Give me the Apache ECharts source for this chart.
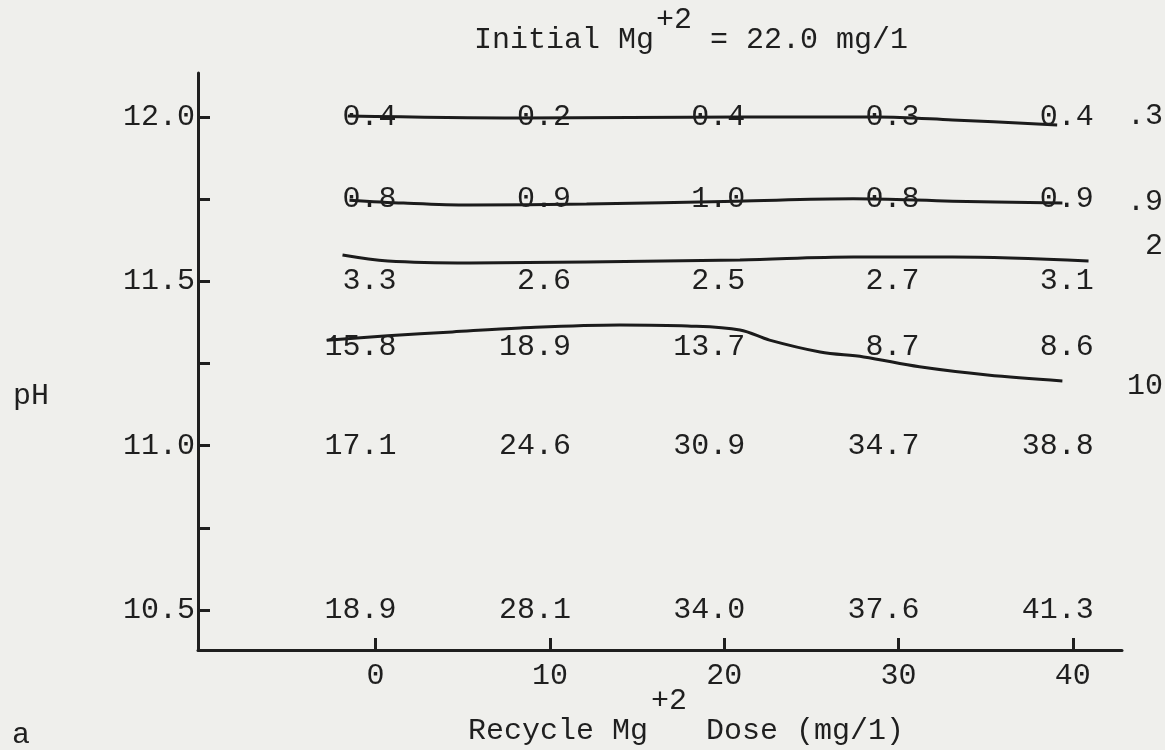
<!DOCTYPE html>
<html>
<head>
<meta charset="utf-8">
<script src="https://cdn.jsdelivr.net/npm/echarts@6/dist/echarts.min.js"></script>
<style>
  html, body { margin: 0; padding: 0; background: #efefec; }
  #chart { width: 1165px; height: 750px; }
</style>
</head>
<body>
<div id="chart"></div>
<script>
// Recycle Mg+2 dose columns (mg/l)
const doses = [0, 10, 20, 30, 40];
// pH levels of the tabulated rows
const phRows = [12.0, 11.75, 11.5, 11.3, 11.0, 10.5];
// residual values at each pH level, one entry per dose
const rowPh120 = [0.4, 0.2, 0.4, 0.3, 0.4];
const rowPh1175 = [0.8, 0.9, 1.0, 0.8, 0.9];
const rowPh115 = [3.3, 2.6, 2.5, 2.7, 3.1];
const rowPh113 = [15.8, 18.9, 13.7, 8.7, 8.6];
const rowPh110 = [17.1, 24.6, 30.9, 34.7, 38.8];
const rowPh105 = [18.9, 28.1, 34.0, 37.6, 41.3];
const tableRows = [rowPh120, rowPh1175, rowPh115, rowPh113, rowPh110, rowPh105];

// iso-lines drawn through the table: [dose, pH]
const curve03 = [[-1.6, 12.003], [8.3, 11.997], [20.9, 12.0], [28.8, 12.0], [33.1, 11.991], [39.1, 11.976]];
const curve09 = [[-1.5, 11.747], [1.6, 11.738], [5.4, 11.732], [12.1, 11.735], [20.7, 11.744], [27.4, 11.751], [33.1, 11.744], [39.4, 11.738]];
const curve2 = [[-1.9, 11.580], [0.7, 11.562], [5.4, 11.556], [12.1, 11.559], [20.9, 11.565], [27.4, 11.574], [33.1, 11.574], [40.9, 11.562]];
const curve10 = [[-2.8, 11.321], [0.7, 11.334], [4.4, 11.346], [8.3, 11.358], [14.0, 11.367], [17.9, 11.364], [20.9, 11.352], [22.6, 11.321], [25.5, 11.285], [28.0, 11.270], [31.2, 11.240], [35.1, 11.215], [39.4, 11.197]];
const curves = [curve03, curve09, curve2, curve10];
const curveNames = ['.3', '.9', '2', '10'];

// axis ticks and labels
const xTicks = [0, 10, 20, 30, 40];
const yTicks = [10.5, 10.75, 11.0, 11.25, 11.5, 11.75, 12.0];
const yLabelValues = [10.5, 11.0, 11.5, 12.0];

const FONT = '"Liberation Mono", "DejaVu Sans Mono", monospace';
const INK = '#1f1f1f';

const tablePoints = [];
phRows.forEach((ph, r) => {
  doses.forEach((d, c) => tablePoints.push([d, ph, tableRows[r][c]]));
});

const chart = echarts.init(document.getElementById('chart'), null, { renderer: 'canvas' });

function txt(text, x, y, align) {
  return {
    type: 'text', x: x, y: y,
    style: { text: text, font: '30px ' + FONT, fill: INK, textAlign: align || 'left', textVerticalAlign: 'middle' }
  };
}

const option = {
  backgroundColor: '#efefec',
  animation: false,
  grid: { left: 198, right: 43, top: 73, bottom: 100, outerBoundsMode: 'none' },
  xAxis: {
    type: 'value', min: -10.19, max: 42.82,
    splitLine: { show: false },
    axisLine: { onZero: false, lineStyle: { color: INK, width: 3 } },
    axisTick: { inside: true, length: 12, lineStyle: { color: INK, width: 3 }, customValues: xTicks },
    axisLabel: { customValues: xTicks, margin: 11, color: INK, fontFamily: FONT, fontSize: 30 }
  },
  yAxis: {
    type: 'value', min: 10.378, max: 12.134,
    splitLine: { show: false },
    axisLine: { onZero: false, lineStyle: { color: INK, width: 3 } },
    axisTick: { inside: true, length: 12, lineStyle: { color: INK, width: 3 }, customValues: yTicks },
    axisLabel: { customValues: yLabelValues, margin: 3, color: INK, fontFamily: FONT, fontSize: 30,
      formatter: v => v.toFixed(1) }
  },
  series: curves.map((c, i) => ({
    type: 'line', name: curveNames[i], data: c, smooth: 0.35, showSymbol: false,
    lineStyle: { color: '#1b1b1b', width: 3 }, z: 3
  })).concat([{
    type: 'scatter', data: tablePoints, symbolSize: 0, z: 4,
    itemStyle: { opacity: 1 },
    label: {
      show: true, position: 'inside', align: 'right', verticalAlign: 'middle', offset: [21, 0],
      color: INK, fontFamily: FONT, fontSize: 30, opacity: 1,
      formatter: p => p.value[2].toFixed(1)
    }
  }]),
  graphic: [
    // chart title with superscript charge
    txt('Initial Mg', 474, 40),
    txt('+2', 656, 20),
    txt('= 22.0 mg/1', 710, 40),
    // x-axis title
    txt('Recycle Mg', 468, 731),
    txt('+2', 651, 701),
    txt('Dose (mg/1)', 706, 731),
    // y-axis title and panel letter
    txt('pH', 13, 396),
    txt('a', 12, 735),
    // iso-line values at the right margin
    txt(curveNames[0], 1163, 116, 'right'),
    txt(curveNames[1], 1163, 202, 'right'),
    txt(curveNames[2], 1163, 246, 'right'),
    txt(curveNames[3], 1163, 386, 'right')
  ]
};

chart.setOption(option);
</script>
</body>
</html>
